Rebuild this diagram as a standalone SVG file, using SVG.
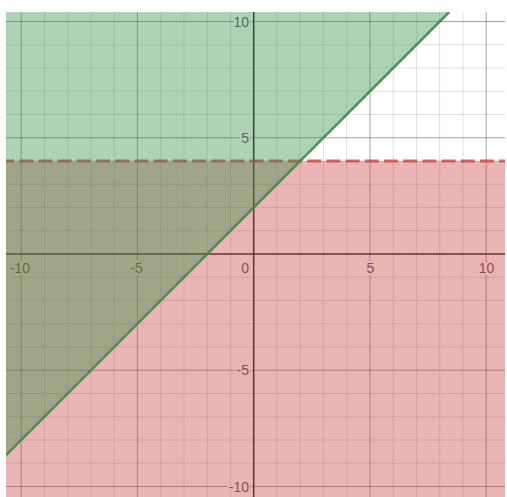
<svg xmlns="http://www.w3.org/2000/svg" width="507" height="497" viewBox="0 0 507 497">
  <defs>
    <clipPath id="plot"><rect x="6" y="12" width="499" height="485"/></clipPath>
  </defs>
  <style>
    .minor { stroke: #000; stroke-opacity: 0.12; stroke-width: 1; fill: none; }
    .major { stroke: #000; stroke-opacity: 0.36; stroke-width: 1; fill: none; }
    .axis { stroke: #000; stroke-opacity: 0.85; stroke-width: 1.5; fill: none; }
    .lbl { font-family: "Liberation Sans", Arial, sans-serif; font-size: 14px; fill: #5a5a5a; stroke: #fff; stroke-width: 4px; stroke-linejoin: round; paint-order: stroke; }
    .xl { text-anchor: middle; }
    .yl { text-anchor: end; }
    .redfill { fill: #c74440; fill-opacity: 0.4; }
    .greenfill { fill: #388c46; fill-opacity: 0.4; }
    .redline { stroke: #c74440; stroke-opacity: 0.8; stroke-width: 3; stroke-dasharray: 14 5.2; stroke-dashoffset: 6; fill: none; }
    .greenline { stroke: #388c46; stroke-opacity: 0.9; stroke-width: 2.5; fill: none; }
  </style>
  <rect x="0" y="0" width="507" height="497" fill="#fff"/>
  <g id="graph" clip-path="url(#plot)">
    <g id="grid">
      <path class="minor" d="M44.45 12V497M67.7 12V497M90.95 12V497M114.2 12V497M160.7 12V497M183.95 12V497M207.2 12V497M230.45 12V497M276.95 12V497M300.2 12V497M323.45 12V497M346.7 12V497M393.2 12V497M416.45 12V497M439.7 12V497M462.95 12V497"/>
      <path class="minor" d="M6 44.75H505M6 68H505M6 91.25H505M6 114.5H505M6 161H505M6 184.25H505M6 207.5H505M6 230.75H505M6 277.25H505M6 300.5H505M6 323.75H505M6 347H505M6 393.5H505M6 416.75H505M6 440H505M6 463.25H505"/>
      <path class="major" d="M21.2 12V497M137.45 12V497M369.95 12V497M486.2 12V497M6 21.5H505M6 137.75H505M6 370.25H505M6 486.5H505"/>
      <path class="axis" d="M253.7 12V497M6 254H505"/>
    </g>
    <g id="labels">
      <text class="lbl xl" x="20" y="273">-10</text>
      <text class="lbl xl" x="136.5" y="273">-5</text>
      <text class="lbl yl" x="249" y="273">0</text>
      <text class="lbl xl" x="370.5" y="273">5</text>
      <text class="lbl xl" x="486.5" y="273">10</text>
      <text class="lbl yl" x="249" y="26.5">10</text>
      <text class="lbl yl" x="249" y="142.75">5</text>
      <text class="lbl yl" x="249" y="375.25">-5</text>
      <text class="lbl yl" x="249" y="491.5">-10</text>
    </g>
    <g id="region-red">
      <rect class="redfill" x="6" y="161" width="499" height="336"/>
      <path class="redline" d="M6 161H505"/>
    </g>
    <g id="region-green">
      <polygon class="greenfill" points="6,12 449.2,12 6,455.2"/>
      <path class="greenline" d="M6 455.2L449.2 12"/>
    </g>
  </g>
</svg>
